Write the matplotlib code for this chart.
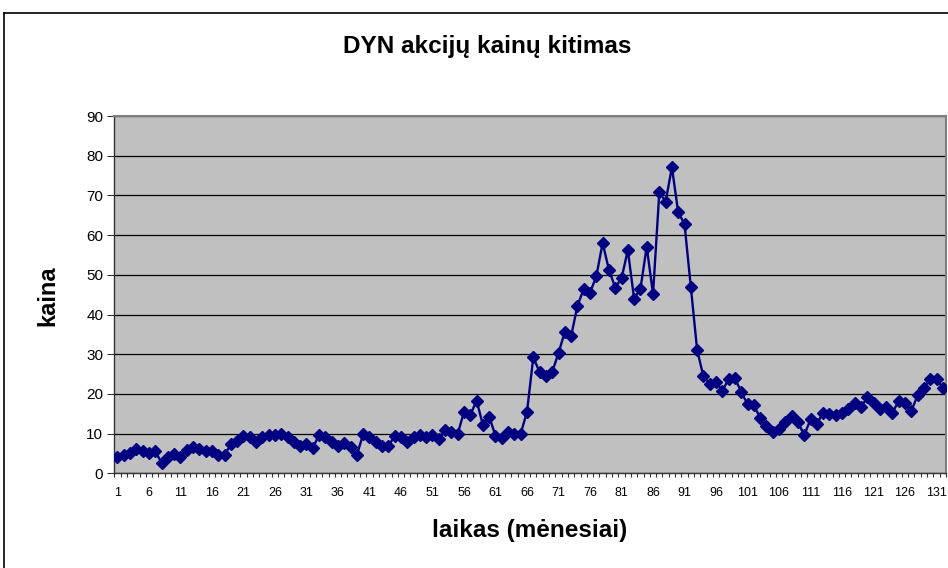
import numpy as np
import matplotlib
matplotlib.use("Agg")
import matplotlib.pyplot as plt
from matplotlib.lines import Line2D

plt.rcParams['font.family'] = ['Liberation Sans', 'DejaVu Sans']

title = "DYN akcijų kainų kitimas"
xlabel = "laikas (mėnesiai)"
ylabel = "kaina"

months = list(range(1, 133))
prices = [
    4.2, 4.6, 5.2, 6.0, 5.5, 5.2, 5.5, 2.7, 4.0, 4.9,
    4.0, 5.9, 6.5, 6.0, 5.5, 5.5, 4.6, 4.6, 7.3, 8.2,
    9.4, 9.1, 8.0, 9.1, 9.7, 9.7, 9.9, 9.2, 8.0, 6.9,
    7.4, 6.3, 9.7, 9.2, 8.0, 6.9, 7.6, 6.7, 4.6, 9.9,
    9.2, 8.0, 6.9, 6.9, 9.4, 9.1, 8.0, 9.2, 9.7, 9.2,
    9.7, 8.6, 10.8, 10.3, 9.9, 15.5, 14.7, 18.3, 12.2, 14.3,
    9.4, 8.8, 10.5, 10.0, 10.0, 15.5, 29.2, 25.5, 24.4, 25.5,
    30.3, 35.6, 34.5, 42.2, 46.4, 45.5, 49.6, 58.0, 51.3, 46.8,
    49.1, 56.2, 44.0, 46.4, 57.1, 45.1, 70.8, 68.4, 77.1, 65.7,
    62.8, 47.0, 31.1, 24.4, 22.6, 23.0, 20.8, 23.7, 23.9, 20.5,
    17.4, 17.1, 14.0, 11.9, 10.3, 11.1, 12.9, 14.5, 12.9, 9.6,
    13.6, 12.4, 15.3, 14.9, 14.6, 15.3, 16.3, 17.8, 16.6, 19.1,
    17.8, 16.3, 16.6, 15.3, 18.2, 17.8, 15.7, 19.7, 21.6, 23.7,
    23.7, 21.6,
]
xtick_labels = list(range(1, 133, 5))
yticks = list(range(0, 91, 10))

W, H = 948, 568
fig = plt.figure(figsize=(W / 100, H / 100), dpi=100)
fig.patch.set_facecolor('white')

# chart frame (cropped on right/bottom)
fx = 4 / W
fy = 1 - 12.5 / H
fig.add_artist(Line2D([fx, 1.0], [fy, fy], transform=fig.transFigure, color='black', lw=1.2))
fig.add_artist(Line2D([fx, fx], [0.0, fy], transform=fig.transFigure, color='black', lw=1.2))

left, right = 114.3 / W, 946 / W
bottom, top = (H - 473.3) / H, (H - 116) / H
ax = fig.add_axes([left, bottom, right - left, top - bottom])
ax.set_facecolor('#C0C0C0')

ax.plot(months, prices, color='#000080', lw=1.7, marker='D', markersize=6,
        markerfacecolor='#000080', markeredgecolor='#000080', zorder=3)

ax.set_xlim(0.5, len(months) + 0.5)
ax.set_ylim(0, 90)
ax.set_yticks(yticks)
ax.yaxis.grid(True, color='black', lw=0.9)
ax.set_axisbelow(True)

ax.set_xticks(xtick_labels)
ax.set_xticklabels([str(v) for v in xtick_labels], fontsize=9,
                   family=['Liberation Sans Narrow', 'Liberation Sans', 'DejaVu Sans'])
ax.set_xticks(np.arange(0.5, len(months) + 1, 1.0), minor=True)
ax.tick_params(axis='x', which='major', length=0, pad=10)
ax.tick_params(axis='x', which='minor', length=3, width=0.8, color='#333333', direction='out')
ax.tick_params(axis='y', which='major', length=5, width=0.8, color='#333333', direction='out',
               labelsize=11, pad=3)

for s in ['left', 'bottom']:
    ax.spines[s].set_color('#333333')
    ax.spines[s].set_linewidth(1.0)
for s in ['top', 'right']:
    ax.spines[s].set_color('#808080')
    ax.spines[s].set_linewidth(1.5)

fig.text(487 / W, 1 - 46 / H, title, ha='center', va='center', fontsize=17.5, fontweight='bold')
fig.text(530 / W, 1 - 530 / H, xlabel, ha='center', va='center', fontsize=17.5, fontweight='bold')
fig.text(48 / W, 1 - 296 / H, ylabel, ha='center', va='center', fontsize=17, fontweight='bold',
         rotation=90)

fig.savefig('out.png', dpi=100)
